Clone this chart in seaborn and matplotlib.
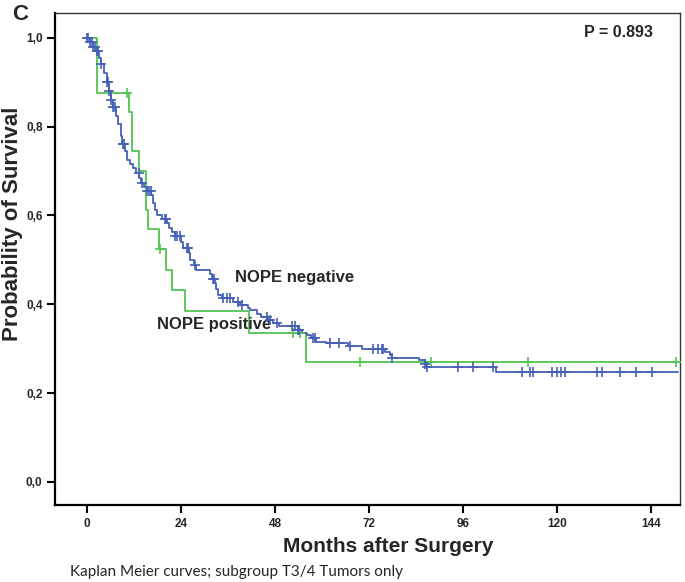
import numpy as np
import pandas as pd
import matplotlib
matplotlib.use("Agg")
import matplotlib.pyplot as plt
import seaborn as sns

# =========================
# DATA
# =========================

# NOPE negative: time of each drop (months) and survival after it
neg_time = [0, 0.8, 1.5, 2.3, 3.0, 3.5, 4.3, 5.0, 5.6, 6.1, 6.7, 7.4, 8.0, 8.6, 9.0,
            9.6, 10.1, 11.0, 11.8, 12.6, 13.3, 13.8, 14.5, 15.2, 16.4, 16.9, 17.4,
            17.8, 19.0, 20.4, 21.0, 21.6, 22.4, 24.0, 24.6, 26.0, 26.3, 27.2, 27.8,
            31.4, 32.0, 32.6, 33.0, 33.5, 34.4, 37.3, 39.0, 41.0, 41.6, 43.3, 44.5,
            46.2, 47.5, 49.0, 53.8, 55.0, 56.1, 57.2, 58.5, 61.0, 66.5, 70.2, 76.1,
            77.3, 77.8, 84.8, 86.2, 86.7, 104.5, 151.0]
neg_surv = [1.0, 0.99, 0.98, 0.97, 0.955, 0.94, 0.92, 0.90, 0.88, 0.86, 0.845, 0.825,
            0.806, 0.78, 0.762, 0.745, 0.724, 0.715, 0.706, 0.695, 0.684, 0.672, 0.664,
            0.655, 0.645, 0.627, 0.613, 0.60, 0.592, 0.582, 0.572, 0.563, 0.553, 0.541,
            0.526, 0.515, 0.50, 0.488, 0.477, 0.468, 0.458, 0.447, 0.434, 0.42, 0.414,
            0.405, 0.398, 0.392, 0.387, 0.377, 0.372, 0.365, 0.357, 0.352, 0.342, 0.336,
            0.330, 0.324, 0.316, 0.312, 0.305, 0.299, 0.292, 0.285, 0.28, 0.274, 0.265,
            0.258, 0.248, 0.248]
neg_censor = [0, 0.3, 0.8, 1.2, 1.6, 2.0, 2.5, 2.8, 3.5, 5.0, 5.3, 5.7, 6.2, 6.7, 7.1,
              9.1, 9.4, 13.2, 14.0, 15.4, 15.9, 16.2, 19.9, 20.2, 22.5, 23.0, 23.6, 25.4,
              25.7, 27.6, 32.2, 32.5, 34.8, 35.7, 36.5, 38.6, 39.5, 45.9, 46.7, 48.4,
              52.3, 53.1, 53.9, 54.2, 57.8, 58.2, 62.0, 64.4, 67.1, 73.1, 74.4, 75.2,
              75.6, 77.8, 86.3, 86.9, 94.8, 98.6, 103.6, 111.0, 113.1, 113.8, 118.6,
              119.9, 121.1, 122.0, 130.1, 131.4, 136.1, 140.2, 144.2]

# NOPE positive
pos_time = [0, 2.5, 10.6, 11.4, 13.3, 15.0, 15.6, 18.3, 20.2, 21.6, 25.0, 41.3, 55.8, 151.0]
pos_surv = [1.0, 0.876, 0.832, 0.745, 0.70, 0.613, 0.570, 0.525, 0.478, 0.433, 0.385,
            0.336, 0.269, 0.269]
pos_censor = [10.1, 18.6, 52.7, 54.4, 69.8, 87.7, 112.6, 150.5]

x_ticks = [0, 24, 48, 72, 96, 120, 144]
y_ticks = [0.0, 0.2, 0.4, 0.6, 0.8, 1.0]
y_tick_labels = ["0,0", "0,2", "0,4", "0,6", "0,8", "1,0"]

blue = "#4560b5"
green = "#52c452"


def censor_points(times, surv, cens):
    idx = np.searchsorted(times, cens, side="right") - 1
    return pd.DataFrame({"t": cens, "s": np.asarray(surv)[idx]})


neg_df = pd.DataFrame({"t": neg_time, "s": neg_surv})
pos_df = pd.DataFrame({"t": pos_time, "s": pos_surv})
neg_c = censor_points(neg_time, neg_surv, neg_censor)
pos_c = censor_points(pos_time, pos_surv, pos_censor)

# =========================
# PLOT
# =========================

sns.set_style("white")
plt.rcParams["font.family"] = ["Liberation Sans", "DejaVu Sans"]

fig = plt.figure(figsize=(6.85, 5.82), dpi=100)
ax = fig.add_axes([0.0803, 0.1323, 0.9124, 0.8454])

sns.lineplot(data=pos_df, x="t", y="s", drawstyle="steps-post", color=green,
             linewidth=1.3, ax=ax, sort=False)
sns.lineplot(data=neg_df, x="t", y="s", drawstyle="steps-post", color=blue,
             linewidth=1.3, ax=ax, sort=False)
sns.scatterplot(data=pos_c, x="t", y="s", marker="+", color=green, s=60,
                linewidth=1.2, ax=ax, zorder=3)
sns.scatterplot(data=neg_c, x="t", y="s", marker="+", color=blue, s=60,
                linewidth=1.2, ax=ax, zorder=4)

ax.set_xlim(-8.2, 151.4)
ax.set_ylim(-0.052, 1.056)
ax.set_xticks(x_ticks)
ax.set_xticklabels([str(v) for v in x_ticks], fontweight="bold", fontsize=8.5)
ax.set_yticks(y_ticks)
ax.set_yticklabels(y_tick_labels, fontweight="bold", fontsize=8.5)
ax.tick_params(axis="both", direction="out", length=6, width=1.5, color="black",
               pad=3, bottom=True, left=True)

for side in ["left", "bottom"]:
    ax.spines[side].set_linewidth(1.6)
    ax.spines[side].set_color("black")
for side in ["top", "right"]:
    ax.spines[side].set_linewidth(1.0)
    ax.spines[side].set_color("#333333")

ax.set_xlabel("Months after Surgery", fontweight="bold", fontsize=15, va="center")
ax.xaxis.set_label_coords(0.533, -0.085)
ax.set_ylabel("Probability of Survival", fontweight="bold", fontsize=16, va="center")
ax.yaxis.set_label_coords(-0.068, 0.571)

ax.text(37.8, 0.461, "NOPE negative", fontweight="bold", fontsize=12, va="center")
ax.text(17.9, 0.355, "NOPE positive", fontweight="bold", fontsize=12, va="center")
ax.text(144.5, 1.011, "P = 0.893", fontweight="bold", fontsize=11.5, ha="right",
        va="center")

fig.text(12 / 685, 1 - 14.5 / 582, "C", fontweight="bold", fontsize=16, va="center")
fig.text(70 / 685, 1 - 572 / 582, "Kaplan Meier curves; subgroup T3/4 Tumors only",
         fontsize=11, family=["Lato", "DejaVu Sans"], va="center")

fig.savefig("out.png", dpi=100)
